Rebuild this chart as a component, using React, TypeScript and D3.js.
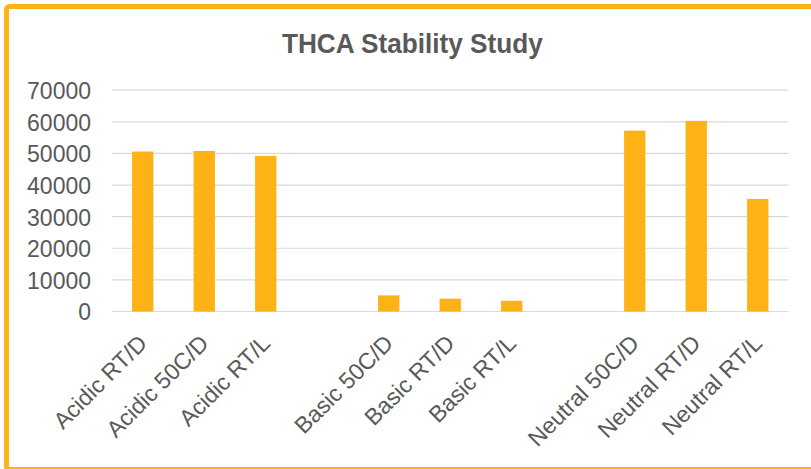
import React from "react";
import * as d3 from "d3";

// Chart data
const categories: string[] = [
  "Acidic RT/D",
  "Acidic 50C/D",
  "Acidic RT/L",
  "",
  "Basic 50C/D",
  "Basic RT/D",
  "Basic RT/L",
  "",
  "Neutral 50C/D",
  "Neutral RT/D",
  "Neutral RT/L",
];
const values: (number | null)[] = [
  50600, 50800, 49200, null, 5100, 4050, 3400, null, 57200, 60300, 35600,
];
const yTicks: number[] = [0, 10000, 20000, 30000, 40000, 50000, 60000, 70000];
const title = "THCA Stability Study";

const WIDTH = 811;
const HEIGHT = 469;
const BAR_COLOR = "#FDB316";
const TEXT_COLOR = "#595959";
const GRID_COLOR = "#D9D9D9";
const FONT = "'Liberation Sans', Arial, sans-serif";

export default function App() {
  const plotLeft = 112;
  const plotRight = 788.5;
  const plotTop = 90.2;
  const plotBottom = 311.5;

  const x = d3
    .scaleBand<number>()
    .domain(d3.range(categories.length))
    .range([plotLeft, plotRight])
    .paddingInner(0.653)
    .paddingOuter(0.3265);

  const y = d3.scaleLinear().domain([0, 70000]).range([plotBottom, plotTop]);

  return (
    <svg
      width={WIDTH}
      height={HEIGHT}
      style={{ position: "absolute", left: 0, top: 0, background: "#fff" }}
      fontFamily={FONT}
    >
      <rect x={0} y={0} width={WIDTH} height={HEIGHT} fill="#fff" />
      {/* chart frame */}
      <rect
        x={6.5}
        y={6.5}
        width={810}
        height={463}
        rx={3}
        fill="none"
        stroke={BAR_COLOR}
        strokeWidth={5}
      />
      <text
        transform="translate(412.4,53) scale(1,1.08)"
        textAnchor="middle"
        fontSize={26.2}
        fontWeight="bold"
        fill={TEXT_COLOR}
      >
        {title}
      </text>

      {/* gridlines and value axis */}
      {yTicks.map((t) => (
        <g key={t}>
          <line
            x1={plotLeft}
            x2={plotRight}
            y1={y(t)}
            y2={y(t)}
            stroke={GRID_COLOR}
            strokeWidth={1.2}
          />
          <text
            transform={`translate(91,${y(t)}) scale(1,1.07)`}
            dy="0.36em"
            textAnchor="end"
            fontSize={23}
            fill={TEXT_COLOR}
          >
            {t}
          </text>
        </g>
      ))}

      {/* bars */}
      {values.map((v, i) =>
        v == null ? null : (
          <rect
            key={i}
            x={x(i)}
            y={y(v)}
            width={x.bandwidth()}
            height={y(0) - y(v)}
            fill={BAR_COLOR}
          />
        )
      )}

      {/* category labels */}
      {categories.map((c, i) =>
        c ? (
          <text
            key={i}
            transform={`translate(${(x(i) ?? 0) + x.bandwidth() / 2},339) rotate(-45)`}
            dy="0.35em"
            textAnchor="end"
            fontSize={23}
            fill={TEXT_COLOR}
          >
            {c}
          </text>
        ) : null
      )}
    </svg>
  );
}
